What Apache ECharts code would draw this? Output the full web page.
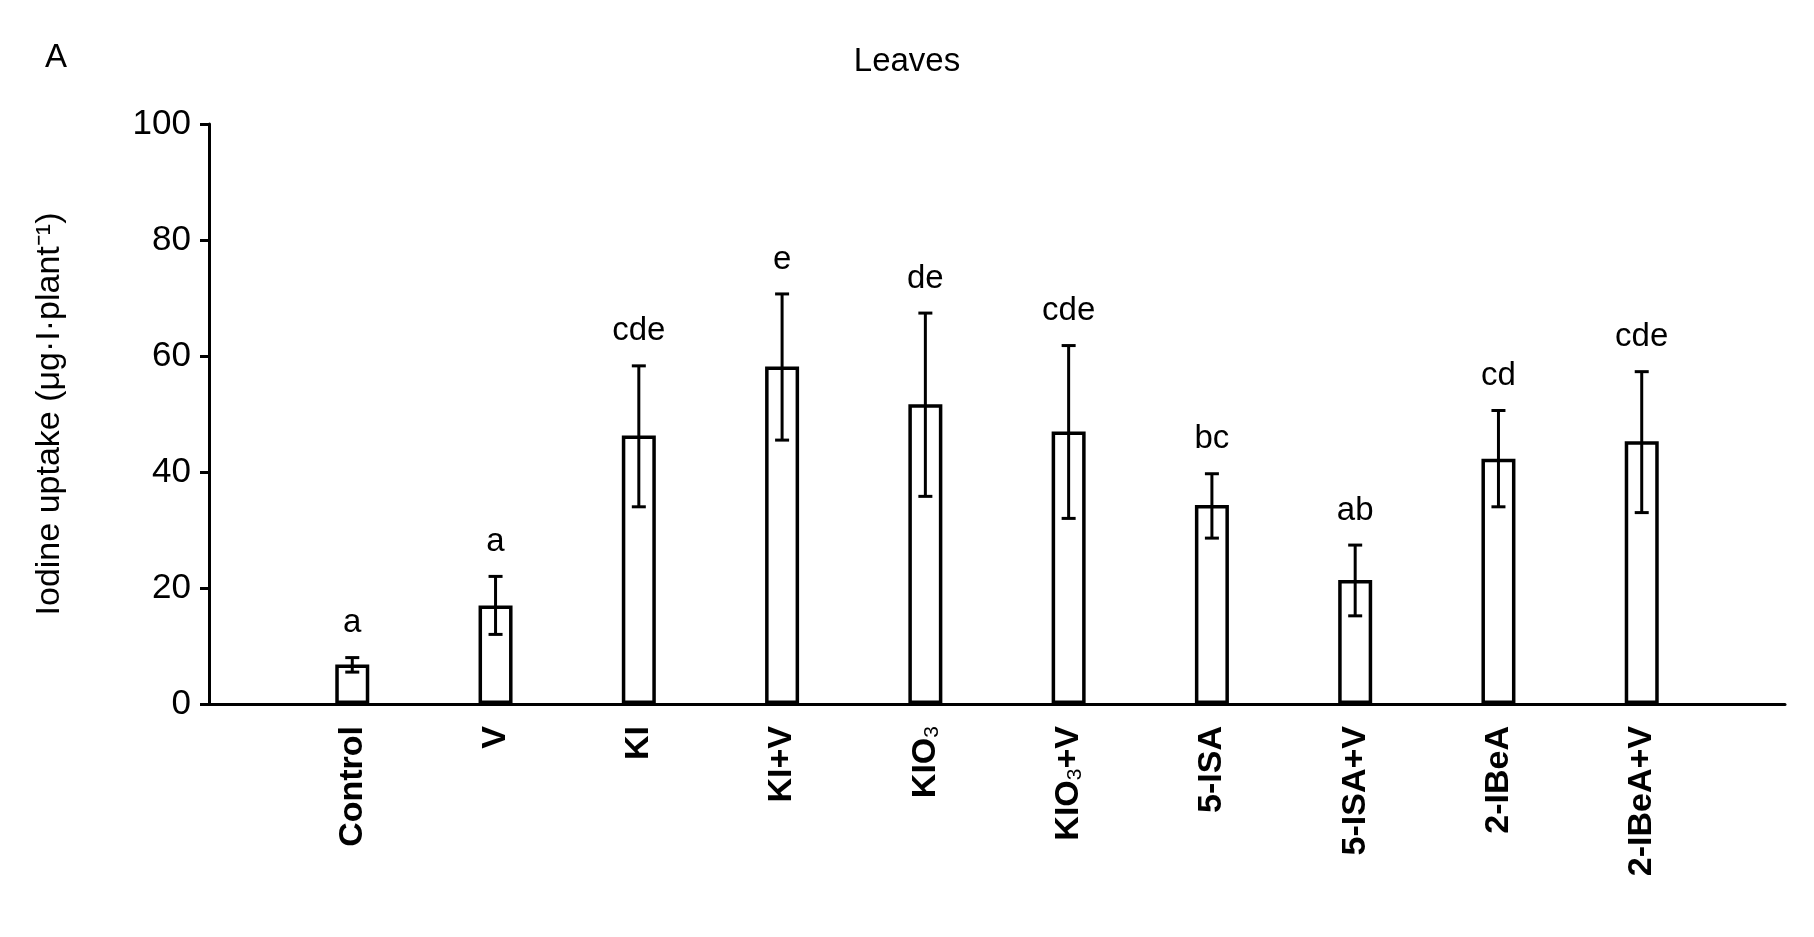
<!DOCTYPE html><html><head><meta charset="utf-8"><script src="https://cdn.jsdelivr.net/npm/echarts@6/dist/echarts.min.js"></script>
<style>html,body{margin:0;background:#fff}#c{width:1814px;height:937px}</style></head><body><div id="c"></div><script>
const categories=['','Control','V','KI','KI+V','KIO3','KIO3+V','5-ISA','5-ISA+V','2-IBeA','2-IBeA+V',''];
const means=[null,6.8,17,46.3,58.2,51.7,47,34.3,21.4,42.3,45.3,null];
const lows=[null,5.5,12,34,45.5,35.8,32,28.6,15.2,34,33,null];
const highs=[null,8,22,58.3,70.7,67.4,61.8,39.7,27.4,50.6,57.3,null];
const letters=['','a','a','cde','e','de','cde','bc','ab','cd','cde',''];
const F='"Liberation Sans", Arial, sans-serif';
const chart=echarts.init(document.getElementById('c'));
chart.setOption({
 animation:false,
 grid:{left:209,right:29,top:124,bottom:233},
 title:[{text:'Leaves',left:'center',top:40,textStyle:{fontFamily:F,fontWeight:'normal',fontSize:33,color:'#000'}},
        {text:'A',left:40,top:36,textStyle:{fontFamily:F,fontWeight:'normal',fontSize:33,color:'#000'}}],
 xAxis:{type:'category',data:categories,boundaryGap:false,
  axisLine:{lineStyle:{color:'#000',width:3}},axisTick:{show:false},
  axisLabel:{rotate:90,interval:0,margin:22,fontFamily:F,fontWeight:'bold',fontSize:34,color:'#000',
   formatter:v=>v.indexOf('KIO3')===0?'{b|KIO}{s|3}{b|'+v.slice(4)+'}':'{b|'+v+'}',
   rich:{b:{fontFamily:F,fontWeight:'bold',fontSize:34,color:'#000'},s:{fontFamily:F,fontWeight:'normal',fontSize:21,color:'#000',verticalAlign:'bottom',padding:[14,0,0,0]}}}},
 yAxis:{type:'value',min:0,max:100,interval:20,name:'Iodine uptake (μg·I·plant⁻¹)',nameLocation:'middle',nameRotate:90,nameGap:142,
  nameTextStyle:{fontFamily:F,fontSize:34,color:'#000'},
  splitLine:{show:false},axisLine:{show:true,lineStyle:{color:'#000',width:3}},axisTick:{show:true,length:9,lineStyle:{width:3}},
  axisLabel:{fontFamily:F,fontSize:35,color:'#000',margin:18}},
 series:[
  {type:'bar',data:means,barWidth:34,itemStyle:{color:'#fff',borderColor:'#000',borderWidth:3.5}},
  {type:'custom',data:means.map((m,i)=>[i,lows[i],highs[i],letters[i]]).filter(d=>d[1]!=null),z:5,
   renderItem:(p,api)=>{const x=api.value(0);const lo=api.coord([x,api.value(1)]);const hi=api.coord([x,api.value(2)]);const w=7;
    return {type:'group',children:[
     {type:'line',shape:{x1:lo[0],y1:lo[1],x2:hi[0],y2:hi[1]},style:{stroke:'#000',lineWidth:3}},
     {type:'line',shape:{x1:lo[0]-w,y1:lo[1],x2:lo[0]+w,y2:lo[1]},style:{stroke:'#000',lineWidth:3}},
     {type:'line',shape:{x1:hi[0]-w,y1:hi[1],x2:hi[0]+w,y2:hi[1]},style:{stroke:'#000',lineWidth:3}},
     {type:'text',style:{text:api.value(3),x:hi[0],y:hi[1]-18,textAlign:'center',textVerticalAlign:'bottom',font:'33px '+F,fill:'#000'}}]};}}
 ]});
</script></body></html>
